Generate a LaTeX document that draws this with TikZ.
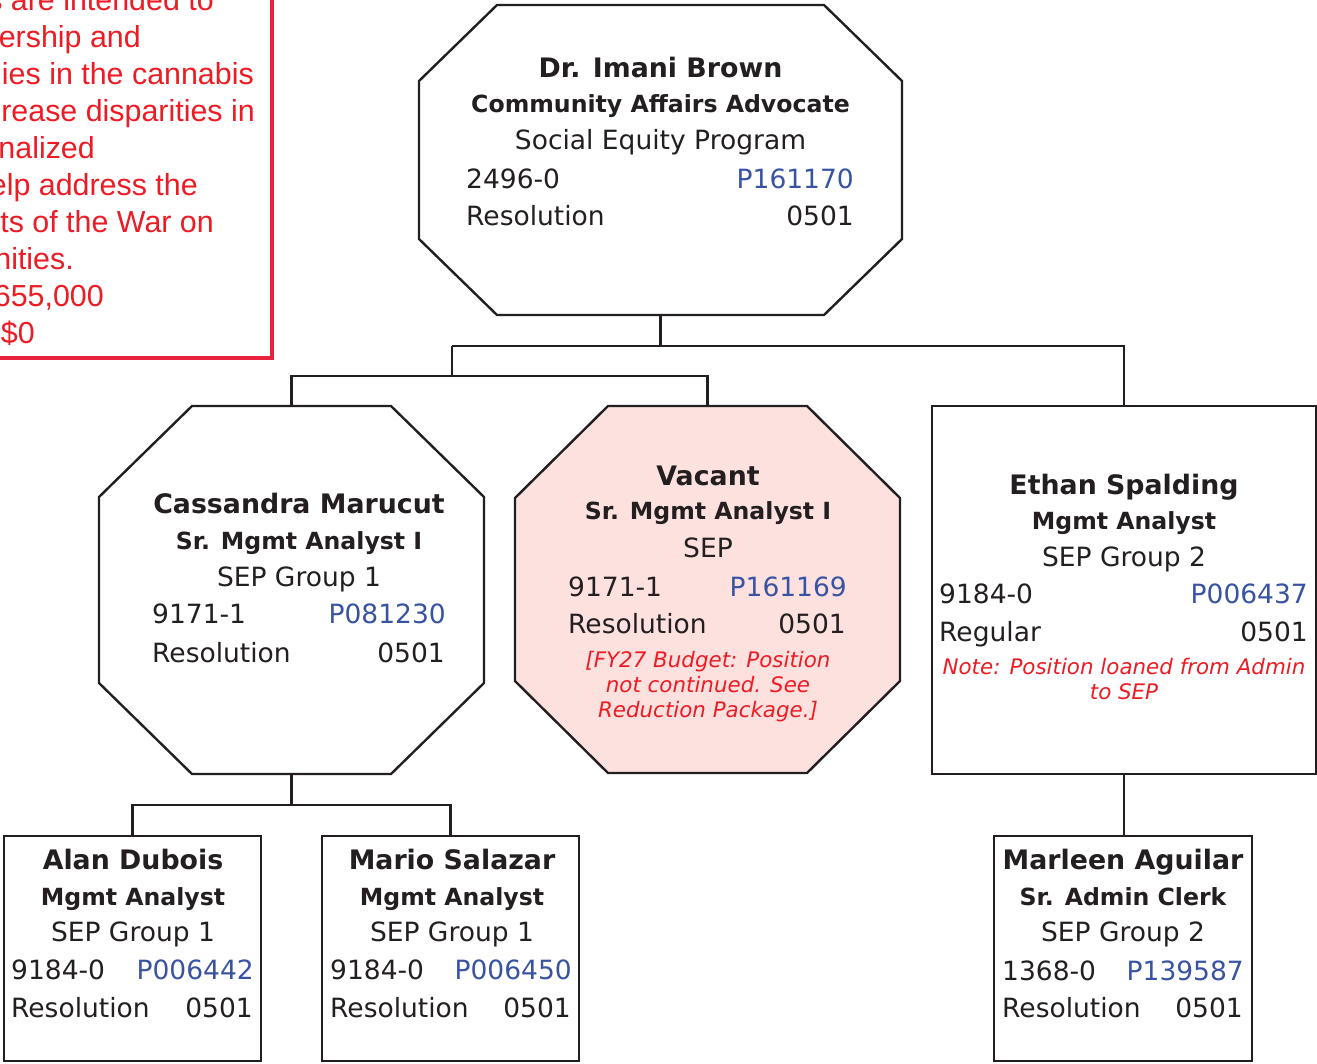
\documentclass[tikz,border=0pt]{standalone}
\usepackage{fontspec}
\setmainfont{DejaVu Sans}
\newfontfamily\arialfont{Liberation Sans}
\usetikzlibrary{calc}

\definecolor{ink}{HTML}{231F20}
\definecolor{nred}{HTML}{ED1C24}
\definecolor{frame}{HTML}{E8223A}
\definecolor{pblue}{HTML}{3953A4}
\definecolor{pinkfill}{HTML}{FDE1DF}

\tikzset{
  boxarea/.style={draw=none, inner sep=0pt, outer sep=0pt, minimum width=#1},
  rectbox/.style={draw=ink, line width=2.4pt, inner sep=0pt, outer sep=0pt, fill=white},
  link/.style={draw=ink, line width=2.4pt},
  nm/.style={font=\fontsize{26.8}{32}\selectfont\bfseries, text=ink, anchor=base, inner sep=0pt},
  ttl/.style={font=\fontsize{23.6}{28}\selectfont\bfseries, text=ink, anchor=base, inner sep=0pt},
  txt/.style={font=\fontsize{26.5}{32}\selectfont, text=ink, anchor=base, inner sep=0pt},
  lt/.style={txt, anchor=base west},
  rt/.style={txt, anchor=base east},
  pid/.style={rt, text=pblue},
  note/.style={font=\fontsize{21.4}{26}\selectfont\itshape, text=nred, anchor=base, inner sep=0pt},
  legendtxt/.style={font=\arialfont\fontsize{30.4}{37}\selectfont, text=nred, anchor=base east, inner sep=0pt},
}

% octagon drawn inside the rectangle of a named node, corners cut by #2 x #3
\newcommand\octoutline[4]{%
  \draw[#4] ($(#1.north west)+(#2,0)$) -- ($(#1.north east)+(-#2,0)$)
    -- ($(#1.north east)+(0,#3)$) -- ($(#1.south east)+(0,-#3)$)
    -- ($(#1.south east)+(-#2,0)$) -- ($(#1.south west)+(#2,0)$)
    -- ($(#1.south west)+(0,-#3)$) -- ($(#1.north west)+(0,#3)$) -- cycle;}

\begin{document}
\begin{tikzpicture}[x=1pt, y=-1pt]
\clip (0,0) rectangle (1317,1063);
\fill[white] (0,0) rectangle (1317,1063);

% ---------- program description panel ----------
\node[draw=frame, line width=4.5pt, inner sep=0pt, outer sep=0pt,
      minimum width=312pt, minimum height=398pt] (legend) at (116,159) {};
\node[legendtxt] (lg1) at (214,10) {s are intended to};
\node[legendtxt] (lg2) at (141,47) {ership and};
\node[legendtxt] (lg3) at (254,84) {ies in the cannabis};
\node[legendtxt] (lg4) at (255,121) {rease disparities in};
\node[legendtxt] (lg5) at (95,158) {nalized};
\node[legendtxt] (lg6) at (198,195) {elp address the};
\node[legendtxt] (lg7) at (214,232) {ts of the War on};
\node[legendtxt] (lg8) at (74,269) {nities.};
\node[legendtxt] (lg9) at (104,306) {655,000};
\node[legendtxt] (lg10) at (35,343) {\$0};

% ---------- box areas ----------
\node[boxarea=483pt, minimum height=310pt] (top) at (660.5,160) {};
\node[boxarea=385pt, minimum height=368pt] (cas) at (291.5,590) {};
\node[boxarea=385pt, minimum height=367pt] (vac) at (707.5,589.5) {};
\node[rectbox, minimum width=384pt, minimum height=368pt] (eth) at (1124,590) {};
\node[rectbox, minimum width=257pt, minimum height=225pt] (alan) at (132.5,948.5) {};
\node[rectbox, minimum width=257pt, minimum height=225pt] (mario) at (450.5,948.5) {};
\node[rectbox, minimum width=258pt, minimum height=225pt] (mar) at (1123,948.5) {};

\octoutline{top}{78}{76}{draw=ink, line width=2.4pt, fill=white}
\octoutline{cas}{93}{91}{draw=ink, line width=2.4pt, fill=white}
\octoutline{vac}{93}{92}{draw=ink, line width=2.4pt, fill=pinkfill}

% ---------- connectors ----------
\coordinate (j1) at (452,346);
\coordinate (j2) at (452,376);
\coordinate (j3) at (291.5,805);
\draw[link] (top.south) -- (top.south |- j1);
\draw[link] (j1) -- (eth.north |- j1) -- (eth.north);
\draw[link] (j1) -- (j2);
\draw[link] (cas.north) -- (cas.north |- j2) -- (vac.north |- j2) -- (vac.north);
\draw[link] (cas.south) -- (j3);
\draw[link] (alan.north) -- (alan.north |- j3) -- (mario.north |- j3) -- (mario.north);
\draw[link] (eth.south) -- (eth.south |- mar.north);

% ---------- Dr. Imani Brown ----------
\node[nm]  (topname) at (660.5,77) {Dr. Imani Brown};
\node[ttl] (toptitle) at (660.5,112) {Community Affairs Advocate};
\node[txt] (topunit) at (660.5,149) {Social Equity Program};
\node[lt]  (topcode) at (466,188) {2496-0};
\node[pid] (toppos) at (854,188) {P161170};
\node[lt]  (topstat) at (466,225) {Resolution};
\node[rt]  (topfund) at (854,225) {0501};

% ---------- Cassandra Marucut ----------
\node[nm]  (casname) at (299,513) {Cassandra Marucut};
\node[ttl] (castitle) at (299,549) {Sr. Mgmt Analyst I};
\node[txt] (casunit) at (299,586) {SEP Group 1};
\node[lt]  (cascode) at (152,623) {9171-1};
\node[pid] (caspos) at (446,623) {P081230};
\node[lt]  (casstat) at (152,662) {Resolution};
\node[rt]  (casfund) at (445,662) {0501};

% ---------- Vacant ----------
\node[nm]  (vacname) at (708,485) {Vacant};
\node[ttl] (vactitle) at (708,519) {Sr. Mgmt Analyst I};
\node[txt] (vacunit) at (708,557) {SEP};
\node[lt]  (vaccode) at (568,596) {9171-1};
\node[pid] (vacpos) at (847,596) {P161169};
\node[lt]  (vacstat) at (568,633) {Resolution};
\node[rt]  (vacfund) at (846,633) {0501};
\node[note] (vacnote1) at (708,667) {[FY27 Budget: Position};
\node[note] (vacnote2) at (708,692) {not continued. See};
\node[note] (vacnote3) at (708,717) {Reduction Package.]};

% ---------- Ethan Spalding ----------
\node[nm]  (ethname) at (1124,494) {Ethan Spalding};
\node[ttl] (ethtitle) at (1124,529) {Mgmt Analyst};
\node[txt] (ethunit) at (1124,566) {SEP Group 2};
\node[lt]  (ethcode) at (939,603) {9184-0};
\node[pid] (ethpos) at (1308,603) {P006437};
\node[lt]  (ethstat) at (939,641) {Regular};
\node[rt]  (ethfund) at (1308,641) {0501};
\node[note] (ethnote1) at (1124,674) {Note: Position loaned from Admin};
\node[note] (ethnote2) at (1124,699) {to SEP};

% ---------- Alan Dubois ----------
\node[nm]  (alanname) at (133,869) {Alan Dubois};
\node[ttl] (alantitle) at (133,905) {Mgmt Analyst};
\node[txt] (alanunit) at (133,941) {SEP Group 1};
\node[lt]  (alancode) at (11,979) {9184-0};
\node[pid] (alanpos) at (254,979) {P006442};
\node[lt]  (alanstat) at (11,1017) {Resolution};
\node[rt]  (alanfund) at (253,1017) {0501};

% ---------- Mario Salazar ----------
\node[nm]  (marioname) at (452,869) {Mario Salazar};
\node[ttl] (mariotitle) at (452,905) {Mgmt Analyst};
\node[txt] (mariounit) at (452,941) {SEP Group 1};
\node[lt]  (mariocode) at (330,979) {9184-0};
\node[pid] (mariopos) at (572,979) {P006450};
\node[lt]  (mariostat) at (330,1017) {Resolution};
\node[rt]  (mariofund) at (571,1017) {0501};

% ---------- Marleen Aguilar ----------
\node[nm]  (marname) at (1123,869) {Marleen Aguilar};
\node[ttl] (martitle) at (1123,905) {Sr. Admin Clerk};
\node[txt] (marunit) at (1123,941) {SEP Group 2};
\node[lt]  (marcode) at (1002,980) {1368-0};
\node[pid] (marpos) at (1244,980) {P139587};
\node[lt]  (marstat) at (1002,1017) {Resolution};
\node[rt]  (marfund) at (1243,1017) {0501};
\end{tikzpicture}
\end{document}
